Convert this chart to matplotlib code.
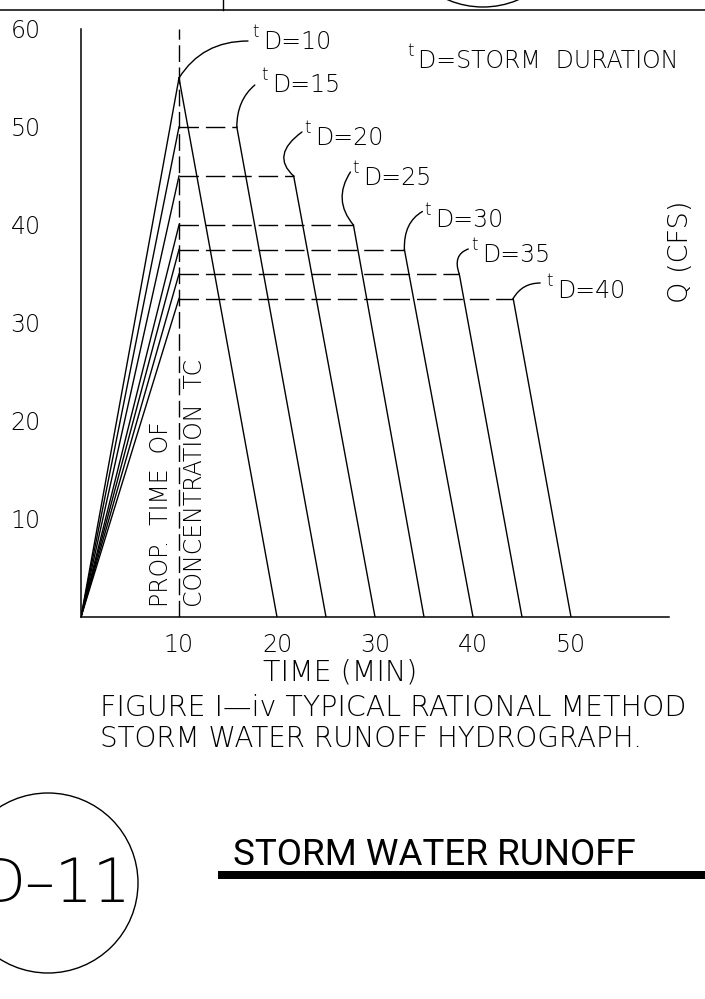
import matplotlib
matplotlib.use("Agg")
import matplotlib.pyplot as plt
from matplotlib.transforms import Affine2D
from matplotlib.patches import Circle, Rectangle
from matplotlib.lines import Line2D

# ---------------- data ----------------
durations = [10, 15, 20, 25, 30, 35, 40]            # storm duration tD (min)
peak_q = [55, 50, 45, 40, 37.5, 35, 32.5]           # peak flow Q (cfs)
tc = 10                                             # time of concentration (min)
recession_start = [10, 15.9, 21.7, 27.8, 33.0, 38.6, 44.1]  # end of plateau (min)
recession_end = [20, 25, 30, 35, 40, 45, 50]        # hydrograph end (min)
x_ticks = [10, 20, 30, 40, 50]
y_ticks = [10, 20, 30, 40, 50, 60]

# ---------------- styling / layout ----------------
W, H = 705, 999
fig = plt.figure(figsize=(W / 100, H / 100), dpi=100)
PX = Affine2D().scale(1 / W, -1 / H).translate(0, 1) + fig.transFigure

THIN = dict(family=["DejaVu Sans"], weight=200)
LW = 1.0

ax = fig.add_axes([81 / W, 1 - 617 / H, 588 / W, 588 / H])
ax.set_xlim(0, 60)
ax.set_ylim(0, 60)
for s in ("top", "right"):
    ax.spines[s].set_visible(False)
for s in ("left", "bottom"):
    ax.spines[s].set_linewidth(1.1)
ax.set_xticks(x_ticks)
ax.set_yticks(y_ticks)
ax.set_xticklabels([str(v) for v in x_ticks], fontsize=17, **THIN)
ax.set_yticklabels([str(v) for v in y_ticks], fontsize=17, **THIN)
ax.tick_params(axis="x", length=0, pad=11.5)
ax.tick_params(axis="y", length=0, pad=29)

# time of concentration line
ax.plot([tc, tc], [0, 60], color="k", lw=LW, ls=(0, (12, 4)))

# hydrographs
for q, rs, re in zip(peak_q, recession_start, recession_end):
    ax.plot([0, tc], [0, q], color="k", lw=LW)
    if rs > tc:
        ax.plot([tc, rs], [q, q], color="k", lw=LW, ls=(0, (14, 5)))
    ax.plot([rs, re], [q, 0], color="k", lw=LW)

# leader curves (offset in px relative to plateau corner, angles)
leaders = [((69, 37), 0, 58), ((18, 42), 40, 90), ((8.3, 44), 36, 138),
           ((-3, 53), 57, 130), ((18, 38), 30, 92), ((9, 25), 20, 110),
           ((27, 15.5), 0, 60)]
for (off, aA, aB), q, rs in zip(leaders, peak_q, recession_start):
    ax.annotate("", xy=(rs, q), xytext=(off[0] * 0.72, off[1] * 0.72),
                textcoords="offset points",
                arrowprops=dict(arrowstyle="-", lw=LW, color="k",
                                connectionstyle=f"angle3,angleA={aA},angleB={aB}",
                                shrinkA=0, shrinkB=0))

label_pos = [(263, 49), (272, 92), (315, 145), (363, 185), (435, 227),
             (482, 262), (557, 298)]


def td_label(x, y, text):
    fig.text(x - 11, y - 12, "t", transform=PX, fontsize=12, ha="left",
             va="baseline", **THIN)
    fig.text(x, y, text, transform=PX, fontsize=17, ha="left",
             va="baseline", **THIN)


for d, (lx, ly) in zip(durations, label_pos):
    td_label(lx, ly, f"D={d}")
td_label(418, 68, "D=STORM  DURATION")

# rotated labels
fig.text(161, 607, "PROP.  TIME  OF", transform=PX, rotation=90,
         rotation_mode="anchor", ha="left", va="center", fontsize=17, **THIN)
fig.text(195, 607, "CONCENTRATION  TC", transform=PX, rotation=90,
         rotation_mode="anchor", ha="left", va="center", fontsize=17, **THIN)
fig.text(680, 252, "Q (CFS)", transform=PX, rotation=90, ha="center",
         va="center", fontsize=19.5, **THIN)

# axis title & caption
fig.text(340, 681, "TIME (MIN)", transform=PX, ha="center", va="baseline",
         fontsize=20.5, **THIN)
fig.text(100, 716, "FIGURE I\u2014iv TYPICAL RATIONAL METHOD", transform=PX,
         ha="left", va="baseline", fontsize=20.5, **THIN)
fig.text(100, 747, "STORM WATER RUNOFF HYDROGRAPH.", transform=PX,
         ha="left", va="baseline", fontsize=20, **THIN)

# page decorations
fig.add_artist(Line2D([0, W], [10, 10], transform=PX, color="k", lw=1.1))
fig.add_artist(Line2D([223, 223], [0, 10], transform=PX, color="k", lw=1.0))
fig.add_artist(Circle((483, -83), 90, transform=PX, fill=False, ec="k", lw=1.0))
fig.add_artist(Circle((48, 883), 90, transform=PX, fill=False, ec="k", lw=1.0))
fig.text(56, 902, "D\u201311", transform=PX, ha="center", va="baseline",
         fontsize=43, **THIN)
fig.text(233, 865, "STORM WATER RUNOFF", transform=PX, ha="left",
         va="baseline", fontsize=26.5,
         family=["Roboto", "Liberation Sans", "DejaVu Sans"])
fig.add_artist(Rectangle((218, 871), W - 218, 8, transform=PX, color="k", lw=0))

fig.savefig("out.png", dpi=100)
